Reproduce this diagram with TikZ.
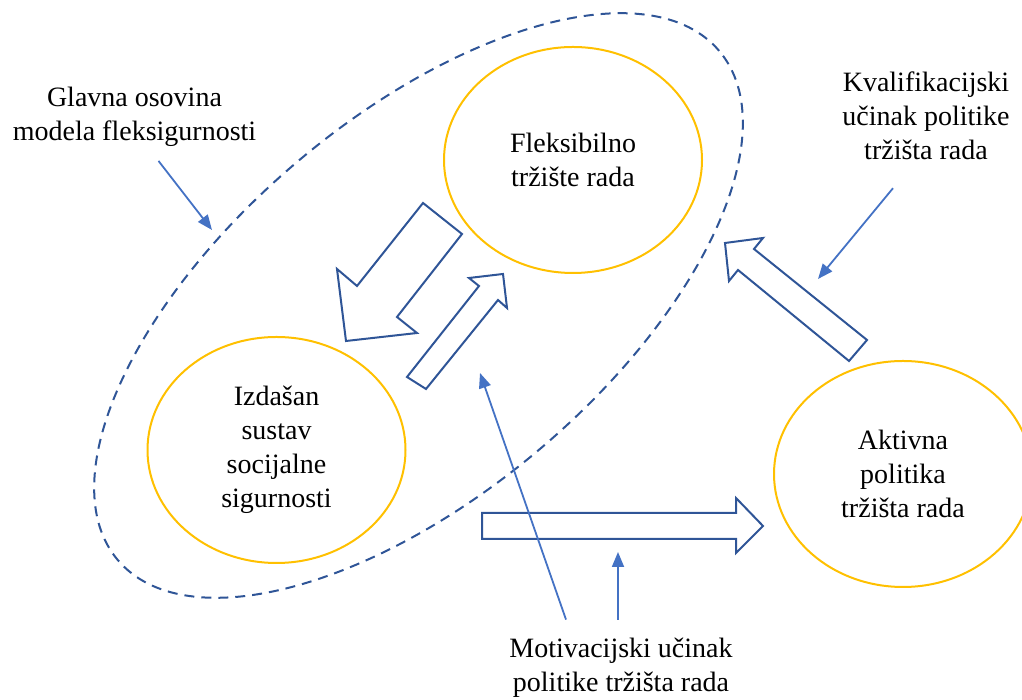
\documentclass[tikz,border=0pt]{standalone}
\usepackage{fontspec}
\setmainfont{Liberation Serif}
\usetikzlibrary{shapes.geometric,arrows.meta}
\definecolor{gold}{HTML}{FFC000}
\definecolor{navy}{HTML}{2F5597}
\definecolor{steel}{HTML}{4472C4}

\begin{document}
\begin{tikzpicture}
	[x=1pt,y=1pt,
	 font=\fontsize{28}{34}\selectfont,
	 field/.style={ellipse,draw=gold,line width=2pt,minimum width=258pt,minimum height=226pt,align=center,inner sep=0pt},
	 note/.style={align=center,inner sep=0pt},
	 barrow/.style={draw=navy,line width=2pt},
	 pointer/.style={draw=steel,line width=1.8pt,-{Triangle[length=15pt,width=12pt]}}]
	\useasboundingbox (0,0) rectangle (1022,700);

	% main axis of the model
	\node[ellipse,draw=navy,line width=2pt,dash pattern=on 10pt off 7pt,minimum width=788pt,minimum height=376pt,rotate=40.26] (axis) at (418.5,394.5) {};

	\node[field] (F) at (573,540) {Fleksibilno\\tržište rada};
	\node[field] (S) at (276.5,250) {Izdašan\\sustav\\socijalne\\sigurnosti};
	\node[field] (A) at (903,226) {Aktivna\\politika\\tržišta rada};

	\node[note] (G) at (134.5,583) {Glavna osovina\\modela fleksigurnosti};
	\node[note] (K) at (926,584) {Kvalifikacijski\\učinak politike\\tržišta rada};
	\node[note] (M) at (621,32) {Motivacijski učinak\\politike tržišta rada};

	% block arrows
	\draw[barrow] (423,497) -- (462,466) -- (397,383) -- (417,367) -- (346,359) -- (337,431) -- (357,414) -- cycle;
	\draw[barrow] (407,323) -- (479,414) -- (469,422) -- (503,426) -- (507,392) -- (498,400) -- (426,311) -- cycle;
	\draw[barrow] (725,457) -- (763,462) -- (754,451) -- (867,360) -- (849,339) -- (738,430) -- (729,419) -- cycle;
	\draw[barrow] (482,187) -- (736,187) -- (736,202) -- (763,174) -- (736,147) -- (736,161) -- (482,161) -- cycle;

	% pointers
	\coordinate (g1) at ([shift={(24,-14)}]G.south);
	\coordinate (g2) at (212,470);
	\coordinate (k1) at ([shift={(-33,-28)}]K.south);
	\coordinate (k2) at (818,421);
	\coordinate (m1) at ([shift={(-55,18.5)}]M.north);
	\coordinate (m2) at (480,327);
	\coordinate (m3) at ([shift={(-3,18.5)}]M.north);
	\coordinate (m4) at (618,148);

	\draw[pointer] (g1) -- (g2);
	\draw[pointer] (k1) -- (k2);
	\draw[pointer] (m1) -- (m2);
	\draw[pointer] (m3) -- (m4);
\end{tikzpicture}
\end{document}
